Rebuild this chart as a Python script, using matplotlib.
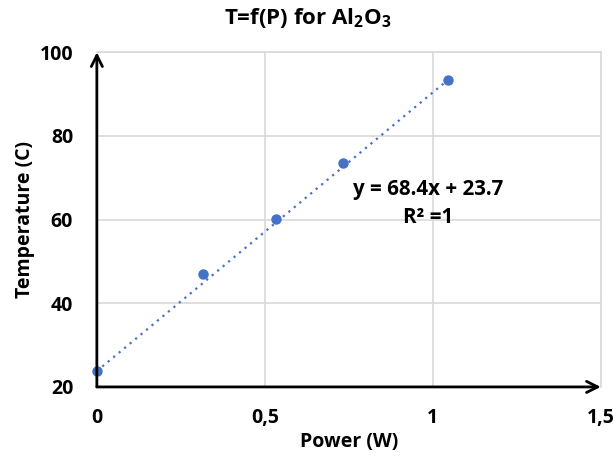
import matplotlib
matplotlib.use("Agg")
import matplotlib.pyplot as plt

BLUE = "#4472C4"
GRID = "#D9D9D9"
FS = 14
plt.rcParams.update({
    "font.family": ["Open Sans", "DejaVu Sans"],
    "font.weight": "bold",
    "mathtext.fontset": "custom",
    "mathtext.rm": "Open Sans:bold",
    "mathtext.it": "Open Sans:bold",
    "mathtext.bf": "Open Sans:bold",
})

# data
power = [0.0, 0.315, 0.534, 0.732, 1.045]
temperature = [23.8, 47.0, 60.1, 73.5, 93.4]
x_ticks = [0, 0.5, 1, 1.5]
x_ticklabels = ["0", "0,5", "1", "1,5"]
y_ticks = [20, 40, 60, 80, 100]

fig = plt.figure(figsize=(6.13, 4.59), dpi=100)
ax = fig.add_axes([0.158, 0.157, 0.822, 0.729])

# trendline across the data range
ax.plot([power[0], power[-1]], [temperature[0], temperature[-1]], color=BLUE,
        lw=1.6, ls=(0, (1, 2.2)), zorder=2)
ax.plot(power, temperature, "o", color=BLUE, ms=6.5, zorder=3, clip_on=False)

ax.set_xlim(0, 1.5)
ax.set_ylim(20, 100)
ax.set_xticks(x_ticks)
ax.set_xticklabels(x_ticklabels)
ax.set_yticks(y_ticks)
ax.tick_params(length=0, labelsize=FS)
ax.tick_params(axis="x", pad=15)
ax.tick_params(axis="y", pad=17)
for lab in ax.get_xticklabels() + ax.get_yticklabels():
    lab.set_fontweight("bold")
ax.grid(True, color=GRID, lw=1.2)
ax.set_axisbelow(True)
for s in ("left", "bottom"):
    ax.spines[s].set_visible(False)
for s in ("top", "right"):
    ax.spines[s].set_color(GRID)
    ax.spines[s].set_linewidth(1.2)

# axis arrows
ax.annotate("", xy=(0, 1.0), xytext=(0, 0), xycoords="axes fraction",
            arrowprops=dict(arrowstyle="->", color="black", lw=2,
                            shrinkA=0, shrinkB=0, mutation_scale=20))
ax.annotate("", xy=(1.0, 0), xytext=(0, 0), xycoords="axes fraction",
            arrowprops=dict(arrowstyle="->", color="black", lw=2,
                            shrinkA=0, shrinkB=0, mutation_scale=20))

ax.text(0.985, 67.1, "y = 68.4x + 23.7", ha="center", va="center",
        fontsize=14.8, fontweight="bold")
ax.text(0.985, 60.6, "R² =1", ha="center", va="center",
        fontsize=14.8, fontweight="bold")

ax.set_xlabel("Power (W)", fontsize=FS, fontweight="bold", labelpad=3)
ax.set_ylabel("Temperature (C)", fontsize=FS, fontweight="bold", labelpad=3)
fig.text(0.502, 0.961, "T=f(P) for Al$_2$O$_3$",
         ha="center", va="center", fontsize=16, fontweight="bold")

fig.savefig("out.png", dpi=100)
